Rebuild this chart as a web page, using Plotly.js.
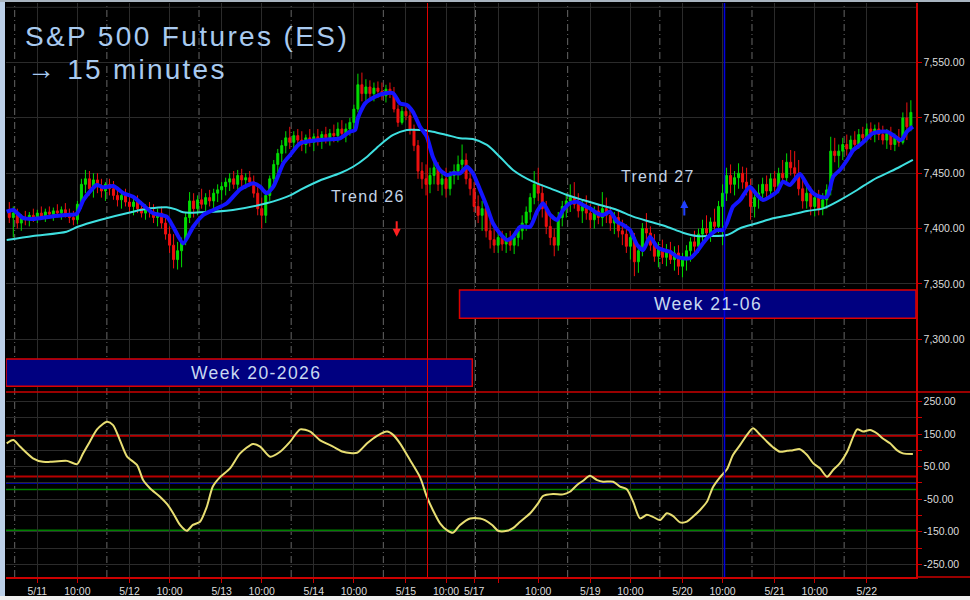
<!DOCTYPE html>
<html><head><meta charset="utf-8">
<script src="https://cdn.plot.ly/plotly-3.0.1.min.js"></script>
<style>
html,body{margin:0;padding:0;background:#000;}
#chart{width:970px;height:600px;}
.gtitle{letter-spacing:0.085em;}
.annotation-text{letter-spacing:0.08em;}
</style>
</head><body><div id="chart"></div>
<script>
// ---- hourly OHLC (hours of trading time from the 5/11 session start) ----
const barOpen = [7415,7410,7414,7405,7410,7408,7412,7410,7414,7411,7415,7413,7416,7414,7417,7412,7410,7408,7422,7440,7445,7436,7444,7438,7434,7440,7436,7430,7426,7430,7424,7420,7424,7418,7414,7418,7415,7410,7414,7405,7395,7385,7372,7380,7388,7410,7425,7418,7426,7422,7428,7425,7432,7435,7438,7442,7445,7440,7448,7444,7446,7442,7432,7418,7412,7430,7445,7458,7468,7475,7482,7478,7484,7480,7476,7482,7478,7483,7480,7485,7482,7486,7484,7490,7486,7490,7496,7508,7530,7522,7528,7522,7527,7524,7520,7526,7522,7508,7496,7506,7502,7490,7475,7452,7445,7440,7448,7455,7440,7445,7436,7448,7452,7458,7462,7445,7436,7420,7412,7418,7398,7390,7385,7392,7386,7390,7385,7392,7398,7405,7415,7428,7440,7432,7418,7402,7392,7385,7410,7420,7425,7428,7422,7416,7420,7414,7408,7416,7410,7418,7412,7405,7410,7398,7395,7384,7392,7370,7380,7400,7396,7385,7375,7382,7374,7380,7372,7378,7366,7372,7380,7388,7384,7395,7400,7396,7406,7402,7420,7432,7448,7440,7446,7450,7442,7436,7420,7428,7432,7440,7434,7445,7438,7450,7446,7460,7455,7450,7436,7425,7432,7420,7428,7418,7426,7435,7470,7466,7470,7476,7472,7480,7476,7485,7482,7490,7486,7490,7485,7480,7486,7476,7482,7478,7500,7492];
const barHigh = [7424,7420,7418,7413,7416,7415,7418,7417,7420,7418,7420,7419,7422,7420,7423,7418,7416,7425,7445,7453,7452,7450,7450,7445,7442,7445,7443,7437,7434,7436,7430,7428,7430,7425,7422,7424,7422,7418,7420,7412,7402,7395,7388,7392,7415,7433,7432,7430,7436,7432,7435,7436,7440,7442,7446,7450,7452,7453,7454,7450,7452,7448,7440,7428,7435,7448,7462,7472,7480,7488,7492,7488,7490,7488,7485,7490,7486,7490,7488,7492,7490,7494,7496,7498,7495,7500,7512,7540,7541,7535,7534,7532,7533,7532,7530,7532,7528,7512,7510,7512,7508,7494,7480,7460,7458,7455,7462,7460,7452,7455,7452,7458,7466,7476,7468,7452,7442,7430,7425,7422,7408,7400,7396,7398,7396,7398,7395,7402,7412,7420,7432,7452,7455,7440,7425,7412,7400,7415,7425,7432,7440,7442,7432,7426,7430,7422,7420,7422,7433,7428,7420,7415,7416,7408,7404,7400,7396,7385,7405,7414,7402,7395,7388,7390,7386,7388,7384,7385,7378,7385,7392,7398,7400,7408,7412,7410,7418,7425,7440,7455,7458,7452,7459,7456,7455,7445,7432,7440,7446,7448,7450,7452,7455,7462,7468,7471,7470,7462,7445,7440,7438,7432,7435,7432,7440,7483,7482,7476,7482,7485,7484,7488,7490,7492,7495,7496,7494,7496,7493,7490,7492,7486,7490,7505,7514,7516];
const barLow = [7405,7392,7400,7398,7403,7402,7406,7405,7408,7406,7409,7407,7410,7408,7410,7405,7403,7404,7418,7432,7430,7428,7432,7428,7425,7430,7426,7420,7418,7420,7415,7412,7414,7410,7408,7410,7405,7402,7400,7390,7378,7364,7363,7365,7385,7405,7410,7412,7418,7415,7420,7418,7424,7426,7430,7434,7436,7434,7438,7436,7438,7428,7412,7400,7405,7425,7440,7450,7460,7468,7472,7470,7474,7470,7468,7474,7470,7475,7472,7477,7475,7478,7478,7482,7478,7484,7490,7505,7515,7512,7518,7515,7518,7516,7514,7518,7505,7492,7494,7498,7485,7470,7445,7436,7430,7432,7440,7434,7430,7428,7430,7440,7444,7450,7440,7430,7415,7405,7398,7392,7382,7378,7378,7380,7378,7380,7377,7384,7390,7398,7408,7422,7425,7410,7395,7385,7375,7380,7402,7410,7415,7418,7410,7405,7408,7400,7400,7404,7402,7405,7398,7395,7392,7385,7378,7372,7357,7360,7375,7390,7380,7370,7365,7368,7366,7368,7362,7358,7356,7362,7370,7375,7378,7385,7390,7388,7398,7396,7385,7425,7432,7430,7436,7436,7430,7408,7410,7418,7425,7428,7428,7432,7432,7440,7440,7448,7445,7430,7418,7418,7412,7411,7412,7412,7418,7430,7460,7455,7462,7466,7465,7470,7472,7476,7478,7480,7478,7480,7476,7472,7471,7470,7474,7476,7480,7488];
const barClose = [7410,7414,7405,7410,7408,7412,7410,7414,7411,7415,7413,7416,7414,7417,7412,7410,7408,7422,7440,7445,7436,7444,7438,7434,7440,7436,7430,7426,7430,7424,7420,7424,7418,7414,7418,7415,7410,7414,7405,7395,7385,7372,7380,7388,7410,7425,7418,7426,7422,7428,7425,7432,7435,7438,7442,7445,7440,7448,7444,7446,7442,7432,7418,7412,7430,7445,7458,7468,7475,7482,7478,7484,7480,7476,7482,7478,7483,7480,7485,7482,7486,7484,7490,7486,7490,7496,7508,7530,7522,7528,7522,7527,7524,7520,7526,7522,7508,7496,7506,7502,7490,7475,7452,7445,7440,7448,7455,7440,7445,7436,7448,7452,7458,7462,7445,7436,7420,7412,7418,7398,7390,7385,7392,7386,7390,7385,7392,7398,7405,7415,7428,7440,7432,7418,7402,7392,7385,7410,7420,7425,7428,7422,7416,7420,7414,7408,7416,7410,7418,7412,7405,7410,7398,7395,7384,7392,7370,7380,7400,7396,7385,7375,7382,7374,7380,7372,7378,7366,7372,7380,7388,7384,7395,7400,7396,7406,7402,7420,7432,7448,7440,7446,7450,7442,7436,7420,7428,7432,7440,7434,7445,7438,7450,7446,7460,7455,7450,7436,7425,7432,7420,7428,7418,7426,7435,7470,7466,7470,7476,7472,7480,7476,7485,7482,7490,7486,7490,7485,7480,7486,7476,7482,7478,7500,7492,7505];

// ---- fast moving average (blue) ----
const fastHour = [-1.65,0,2.4,4.9,9.2,13.3,15.8,17.5,19.1,20.8,22.5,25.0,27.5,29.9,32.4,34.9,38.3,39.9,42.4,44.9,47.4,49.9,53.3,56.6,59.9,61.6,63.2,64.9,67.4,69.1,71.6,76.5,81.5,84.0,85.3,86.0,87.8,90.3,92.8,94.8,96.5,98.2,99.7,101.5,103.2,104.7,106.5,108.2,109.7,111.5,113.2,114.7,116.5,118.2,119.7,121.4,123.2,124.7,126.5,129.0,130.7,132.2,134.0,135.7,137.2,138.9,140.7,142.2,143.9,145.7,147.2,148.9,150.7,152.2,153.9,155.7,157.2,158.9,160.6,162.1,163.9,165.6,167.1,168.9,170.6,172.1,173.9,175.6,177.1,178.1,179.6,181.4,183.8,185.6,187.1,188.8,190.6,192.1,193.8,196.3,198.1,199.6,201.3,203.1,204.6,206.3,208.1,209.6,211.3,213.1,214.5,216.3,218.0,219.5,221.3,222.0,223.0,224.5];
const fastMA = [7415.3,7416.8,7409.6,7408.7,7410.8,7412.3,7413.2,7425.8,7433.4,7439.4,7437.3,7438.5,7431.9,7428.8,7421.3,7413.8,7410.8,7401.7,7386.7,7401.7,7412.3,7416.8,7422.9,7435.5,7440.9,7437.9,7431.9,7437.9,7459,7466.5,7477.1,7480.1,7481.6,7487.6,7489.1,7500,7513.2,7519.2,7522.3,7522.3,7513.2,7511.7,7505.7,7492.1,7483.1,7465,7453,7448.4,7450,7450,7455.9,7450,7434.9,7419.8,7404.8,7395.8,7389.7,7392.7,7401.7,7401.7,7415.3,7422.9,7412.3,7407.8,7416.8,7422.9,7424.3,7421.3,7418.3,7413.8,7412.3,7415.3,7406.2,7403.3,7398.7,7385.2,7380.7,7392.7,7383.6,7380.7,7379.1,7374.6,7373.2,7373.2,7379.1,7386.7,7394.2,7398.7,7398.7,7405,7419.8,7425.8,7437.9,7430.4,7425.8,7428.8,7433.4,7442.4,7439.4,7449.3,7439.4,7431.9,7428.8,7428.8,7446.9,7453,7462,7471,7475.6,7481.6,7486.1,7487.6,7487.6,7484.6,7480.1,7481.6,7487.6,7492.1];

// ---- slow moving average (cyan) ----
const slowHour = [-1.65,4.9,13.3,16.1,21.6,29.9,34.1,38.3,40.6,42.4,46.6,54.8,63.2,69.1,71.6,76.5,81.5,84.8,88.3,91.5,94.8,98.2,101.5,104.7,108.2,111.5,114.7,118.2,121.4,124.7,129.7,134.0,138.2,142.2,146.4,150.7,154.7,158.9,163.1,167.1,170.6,173.9,178.1,181.4,185.6,189.6,193.8,198.1,202.1,206.3,210.6,214.5,218.8,221.3,224.5];
const slowMA = [7389.7,7393.3,7397.2,7401.7,7407.8,7415.3,7418.3,7419.3,7417.4,7414.7,7414.7,7416.8,7422.9,7430,7435,7443.5,7450,7455.9,7465,7475.6,7484.6,7489.1,7489.1,7487.6,7484.6,7481.6,7481,7475.6,7465,7453,7442.4,7436.4,7430.4,7425.8,7421.3,7416.8,7410.8,7406.2,7401.7,7396.3,7393.3,7393.3,7394.2,7400.3,7404.8,7409.3,7412.3,7415.9,7418.3,7425.8,7434.9,7443.9,7451.4,7455.9,7462];

// ---- oscillator (yellow) ----
const oscHour = [-1.65,0,1.67,4.9,7.4,9.2,13.4,15.9,17.4,19.1,20.9,23.4,24.9,26.6,28.4,30.9,32.4,34.1,36.6,38.4,39.9,41.6,43.3,44.8,46.6,48.3,49.8,51.6,54.1,56.6,59.8,61.6,64.1,66.6,69.1,71.6,74.1,76.5,79.8,82.3,85.8,88.3,90.8,93.3,94.8,96.5,99.0,101.5,103.2,104.7,106.5,108.2,109.7,111.5,114.0,116.5,117.7,119.5,121.0,123.2,124.7,126.5,129.0,131.0,132.2,134.7,137.2,138.9,140.7,142.2,143.9,145.7,147.2,149.7,151.4,153.1,154.7,156.4,158.1,159.6,161.4,163.1,164.6,166.4,168.1,169.6,171.4,173.1,174.6,176.4,178.1,179.6,181.4,183.1,184.6,186.4,188.1,189.6,191.3,193.1,194.6,196.3,198.1,199.6,201.3,203.1,204.6,206.3,208.1,209.6,210.6,212.1,213.8,215.5,217.0,218.8,220.5,222.0,224.5];
const oscValue = [122,132,112,76,65,65,68,58,91,127,165,188,178,132,81,55,9,-16,-42,-65,-93,-129,-147,-129,-119,-73,-11,18,45,91,120,112,81,96,127,165,158,132,112,96,93,122,145,158,148,122,71,18,-42,-83,-124,-145,-153,-129,-109,-109,-114,-129,-147,-147,-139,-119,-93,-62,-40,-34,-35,-27,-6,7,22,9,4,4,-11,-19,-58,-109,-98,-104,-114,-93,-101,-121,-119,-104,-83,-58,-13,18,42,86,117,148,168,148,127,110,96,99,101,104,86,61,45,19,40,61,96,142,165,158,163,153,137,122,101,91,89];
const oscLevels = [145, 20, 0, -20, -145];

// ---- axis labels ----
const tickHours = [6,16,29,39,52,62,75,85,98,108,115,121,131,144,154,167,177,190,200,213];
const tickLabels = ['5/11','10:00','5/12','10:00','5/13','10:00','5/14','10:00','5/15','10:00','5/17','','10:00','5/19','10:00','5/20','10:00','5/21','10:00','5/22'];
const sessionStarts = [0.35,23.35,46.35,69.35,92.35,115.35,138.35,161.35,184.35,207.35];
const priceTicks = [7300,7350,7400,7450,7500,7550];
const oscTicks = [-250,-200,-150,-100,-50,0,50,100,150,200,250];
const oscTickLabels = ['-250.00','','-150.00','','-50.00','','50.00','','150.00','','250.00'];
const eventRed = 103.37, eventBlue = 177.49;

const barHour = barOpen.map((_, i) => i - 1);

// layout geometry helpers (pixels -> paper)
const W = 970, H = 600, ML = 6, MR = 54, MT = 3, MB = 23;
const PW = W - ML - MR, PH = H - MT - MB;
const px = v => (v - ML) / PW;
const py = v => (H - MB - v) / PH;
const split = py(392);

const GRID = '#2b2b2b', RED = '#cc0000';

const traces = [
  {type:'candlestick', x:barHour, open:barOpen, high:barHigh, low:barLow, close:barClose,
   xaxis:'x', yaxis:'y', whiskerwidth:0, hoverinfo:'skip',
   increasing:{line:{color:'#00dd00',width:1}, fillcolor:'#00dd00'},
   decreasing:{line:{color:'#ee1010',width:1}, fillcolor:'#ee1010'}},
  {type:'scatter', mode:'lines', x:slowHour, y:slowMA, xaxis:'x', yaxis:'y',
   line:{color:'#3ee0e0', width:2, shape:'spline', smoothing:0.8}, hoverinfo:'skip'},
  {type:'scatter', mode:'lines', x:fastHour, y:fastMA, xaxis:'x', yaxis:'y',
   line:{color:'#1414ff', width:4, shape:'spline', smoothing:0.6}, hoverinfo:'skip'},
  {type:'scatter', mode:'lines', x:oscHour, y:oscValue, xaxis:'x', yaxis:'y2',
   line:{color:'#e8de72', width:2, shape:'spline', smoothing:0.7}, hoverinfo:'skip'}
];

const shapes = [];
// session separators (dashed)
sessionStarts.forEach(h => shapes.push({type:'line', xref:'x', yref:'paper', x0:h, x1:h, y0:0, y1:1,
  line:{color:'#666666', width:1, dash:'7px,3px,1px,3px'}, layer:'below'}));
// top price grid line
shapes.push({type:'line', xref:'paper', yref:'y', x0:0, x1:1, y0:7600, y1:7600, line:{color:GRID,width:1}, layer:'below'});
// oscillator levels
const levelColors = ['#b80000','#b80000','#0000d0','#008000','#008000'];
const levelWidths = [2,2,1.5,1.5,1.5];
oscLevels.forEach((v,i) => shapes.push({type:'line', xref:'paper', yref:'y2', x0:0, x1:1, y0:v, y1:v,
  line:{color:levelColors[i], width:levelWidths[i]}, layer:'below'}));
// week boxes
shapes.push({type:'rect', xref:'x', yref:'y', x0:-1.82, x1:114.55, y0:7257.6, y1:7282.05,
  fillcolor:'#000080', line:{color:'#dd0000', width:1.5}, layer:'above'});
shapes.push({type:'rect', xref:'x', yref:'y', x0:111.36, x1:225.28, y0:7319.0, y1:7344.4,
  fillcolor:'#000080', line:{color:'#dd0000', width:1.5}, layer:'above'});
// event lines
shapes.push({type:'line', xref:'x', yref:'paper', x0:eventRed, x1:eventRed, y0:0, y1:1, line:{color:'#e00000', width:1}, layer:'above'});
shapes.push({type:'line', xref:'x', yref:'paper', x0:eventBlue, x1:eventBlue, y0:0, y1:1, line:{color:'#0000e0', width:1.5}, layer:'above'});
// panel divider and extended axis line
shapes.push({type:'line', xref:'paper', yref:'paper', x0:0, x1:px(970), y0:split, y1:split, line:{color:RED, width:1.5}, layer:'above'});
shapes.push({type:'line', xref:'paper', yref:'paper', x0:1, x1:px(970), y0:0, y1:0, line:{color:RED, width:1.5}, layer:'above'});
// window frame
shapes.push({type:'rect', xref:'paper', yref:'paper', x0:px(0), x1:px(5), y0:py(600), y1:py(0),
  fillcolor:'#bcd0e8', line:{width:0}, layer:'above'});
shapes.push({type:'rect', xref:'paper', yref:'paper', x0:px(0), x1:px(970), y0:py(600), y1:py(596),
  fillcolor:'#f0f0f0', line:{width:0}, layer:'above'});
shapes.push({type:'rect', xref:'paper', yref:'paper', x0:px(0), x1:px(970), y0:py(2), y1:py(0),
  fillcolor:'#a8b4c0', line:{width:0}, layer:'above'});

const annFont = {family:'Liberation Sans, Arial, sans-serif'};
const annotations = [
  {xref:'paper', yref:'paper', x:px(25), y:py(69), xanchor:'left', yanchor:'middle', showarrow:false,
   text:'→ 15 minutes', font:{...annFont, size:28, color:'#a8caf0'}},
  {xref:'x', yref:'y', x:88.5, y:7428.6, showarrow:false, text:'Trend 26', font:{...annFont, size:16, color:'#c3d3e6'}},
  {xref:'x', yref:'y', x:160.9, y:7447.5, showarrow:false, text:'Trend 27', font:{...annFont, size:16, color:'#c3d3e6'}},
  {xref:'x', yref:'y', x:60.5, y:7269.5, showarrow:false, text:'Week 20-2026', font:{...annFont, size:17.5, color:'#c8d8f0'}},
  {xref:'x', yref:'y', x:173.4, y:7331.6, showarrow:false, text:'Week 21-06', font:{...annFont, size:17.5, color:'#c8d8f0'}},
  {xref:'x', yref:'y', x:95.68, y:7392.7, ax:0, ay:-17, text:'', showarrow:true, arrowhead:2, arrowsize:0.8, arrowwidth:2, arrowcolor:'#ff2020', standoff:0},
  {xref:'x', yref:'y', x:167.46, y:7425.8, ax:0, ay:17, text:'', showarrow:true, arrowhead:2, arrowsize:0.8, arrowwidth:2, arrowcolor:'#2040ff', standoff:0}
];

const tickFont = {family:'Liberation Sans, Arial, sans-serif', size:10.5, color:'#dcdcdc'};
const layout = {
  width:W, height:H, paper_bgcolor:'#000', plot_bgcolor:'#000',
  margin:{l:ML, r:MR, t:MT, b:MB, pad:0}, showlegend:false,
  font:{family:'Liberation Sans, Arial, sans-serif', color:'#dcdcdc'},
  title:{text:'S&P 500 Futures (ES)', x:25/970, xanchor:'left', y:1-36.5/600, yanchor:'middle',
         font:{family:'Liberation Sans, Arial, sans-serif', size:28, color:'#a8caf0'}},
  xaxis:{range:[-1.82,225.28], anchor:'y2', tickmode:'array', tickvals:tickHours, ticktext:tickLabels,
         ticks:'outside', ticklen:4, tickcolor:RED, showline:true, linecolor:RED, linewidth:1.5,
         showgrid:true, gridcolor:GRID, zeroline:false, rangeslider:{visible:false}, tickfont:tickFont, fixedrange:true},
  yaxis:{domain:[split,1], range:[7252.3,7603.9], side:'right', anchor:'x', tickmode:'array', tickvals:priceTicks,
         tickformat:',.2f', ticks:'outside', ticklen:4, tickcolor:RED, showline:true, linecolor:RED, linewidth:1.5,
         showgrid:true, gridcolor:GRID, zeroline:false, tickfont:tickFont, fixedrange:true},
  yaxis2:{domain:[0,split], range:[-289.1,279.8], side:'right', anchor:'x', tickmode:'array', tickvals:oscTicks,
          ticktext:oscTickLabels, ticks:'outside', ticklen:4, tickcolor:RED, showline:true, linecolor:RED, linewidth:1.5,
          showgrid:true, gridcolor:GRID, zeroline:false, tickfont:tickFont, fixedrange:true},
  shapes:shapes, annotations:annotations
};

Plotly.newPlot('chart', traces, layout, {displayModeBar:false, staticPlot:true});
</script>
</body></html>
